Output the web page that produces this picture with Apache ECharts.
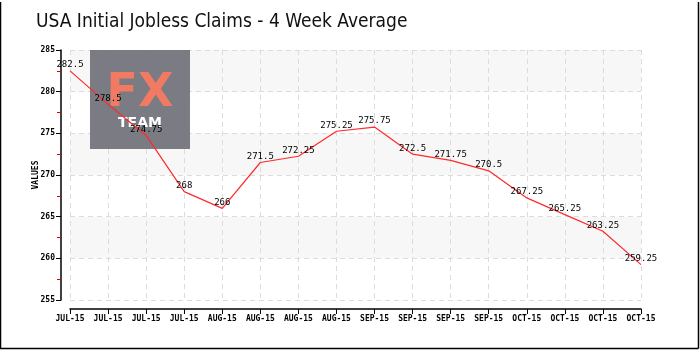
<!DOCTYPE html>
<html>
<head>
<meta charset="utf-8">
<style>
  html, body { margin: 0; padding: 0; background: #fff; }
  #chart { width: 700px; height: 350px; }
</style>
<script src="https://cdn.jsdelivr.net/npm/echarts@6/dist/echarts.min.js"></script>
</head>
<body>
<div id="chart"></div>
<script>
// Weekly points, four-week moving average of initial jobless claims (thousands)
const categories = [
  'JUL-15', 'JUL-15', 'JUL-15', 'JUL-15',
  'AUG-15', 'AUG-15', 'AUG-15', 'AUG-15',
  'SEP-15', 'SEP-15', 'SEP-15', 'SEP-15',
  'OCT-15', 'OCT-15', 'OCT-15', 'OCT-15'
];
const claimsAverage = [
  282.5, 278.5, 274.75, 268, 266, 271.5, 272.25, 275.25,
  275.75, 272.5, 271.75, 270.5, 267.25, 265.25, 263.25, 259.25
];
const yTicks = { min: 255, max: 285, step: 5 };

const axisFont = 'DejaVu Sans Mono';
const chart = echarts.init(document.getElementById('chart'), null, { renderer: 'canvas' });

chart.setOption({
  animation: false,
  backgroundColor: '#ffffff',
  title: {
    text: 'USA Initial Jobless Claims - 4 Week Average',
    left: 31,
    top: 8,
    textStyle: {
      fontFamily: 'DejaVu Sans Condensed',
      fontWeight: 'normal',
      fontSize: 19,
      color: '#111'
    }
  },
  grid: { left: 70, right: 59, top: 50, bottom: 50 },
  xAxis: {
    type: 'category',
    data: categories,
    boundaryGap: false,
    offset: 9,
    axisLine: { lineStyle: { color: '#000', width: 1.5 } },
    axisTick: { show: true, length: 5, alignWithLabel: true, lineStyle: { color: '#000' } },
    axisLabel: {
      interval: 0,
      fontFamily: axisFont,
      fontWeight: 'bold',
      fontSize: 8,
      color: '#000',
      margin: 6
    },
    splitLine: { show: true, lineStyle: { color: '#dcdcdc', type: [5, 4] } }
  },
  yAxis: {
    type: 'value',
    min: yTicks.min,
    max: yTicks.max,
    interval: yTicks.step,
    offset: 9,
    name: 'VALUES',
    nameLocation: 'middle',
    nameGap: 21,
    nameMoveOverlap: false,
    nameTextStyle: { fontFamily: axisFont, fontWeight: 'bold', fontSize: 8, color: '#000' },
    axisLine: { show: true, lineStyle: { color: '#000', width: 1.5 } },
    axisTick: { show: true, length: 5, lineStyle: { color: '#000' } },
    minorTick: { show: true, splitNumber: 2, length: 4, lineStyle: { color: '#e00000' } },
    axisLabel: {
      fontFamily: axisFont,
      fontWeight: 'bold',
      fontSize: 8,
      color: '#000',
      margin: 6
    },
    splitLine: { show: true, lineStyle: { color: '#dcdcdc', type: [5, 4] } },
    splitArea: { show: true, areaStyle: { color: ['#ffffff', '#f7f7f7'] } }
  },
  series: [{
    type: 'line',
    data: claimsAverage,
    symbol: 'circle',
    symbolSize: 1,
    showSymbol: true,
    itemStyle: { color: 'rgba(255,48,48,0)' },
    z: 5,
    lineStyle: { color: '#ff2a2a', width: 1.2 },
    label: {
      show: true,
      position: 'top',
      distance: 1,
      fontFamily: axisFont,
      fontSize: 9,
      color: '#000'
    },
    labelLayout: { hideOverlap: false }
  }],
  graphic: [
    // logo block in the upper-left of the plot
    {
      type: 'rect', z: 1,
      shape: { x: 90, y: 50, width: 100, height: 99 },
      style: { fill: 'rgba(112,112,122,0.92)' }
    },
    {
      type: 'text', z: 1,
      x: 140, y: 94,
      style: {
        text: 'FX', fill: '#f07a62',
        font: 'bold 46px "DejaVu Sans"',
        align: 'center', verticalAlign: 'middle'
      }
    },
    {
      type: 'text', z: 1,
      x: 140, y: 123,
      style: {
        text: 'TEAM', fill: '#ffffff',
        font: 'bold 14px "DejaVu Sans"',
        align: 'center', verticalAlign: 'middle'
      }
    },
    // frame lines
    { type: 'line', z: 10, shape: { x1: 0.5, y1: 2, x2: 0.5, y2: 348.5 }, style: { stroke: '#000', lineWidth: 1.5 } },
    { type: 'line', z: 10, shape: { x1: 0, y1: 348.5, x2: 698.5, y2: 348.5 }, style: { stroke: '#000', lineWidth: 1.5 } },
    { type: 'line', z: 10, shape: { x1: 698.5, y1: 2, x2: 698.5, y2: 348.5 }, style: { stroke: '#000', lineWidth: 1.5 } }
  ]
});
</script>
</body>
</html>
